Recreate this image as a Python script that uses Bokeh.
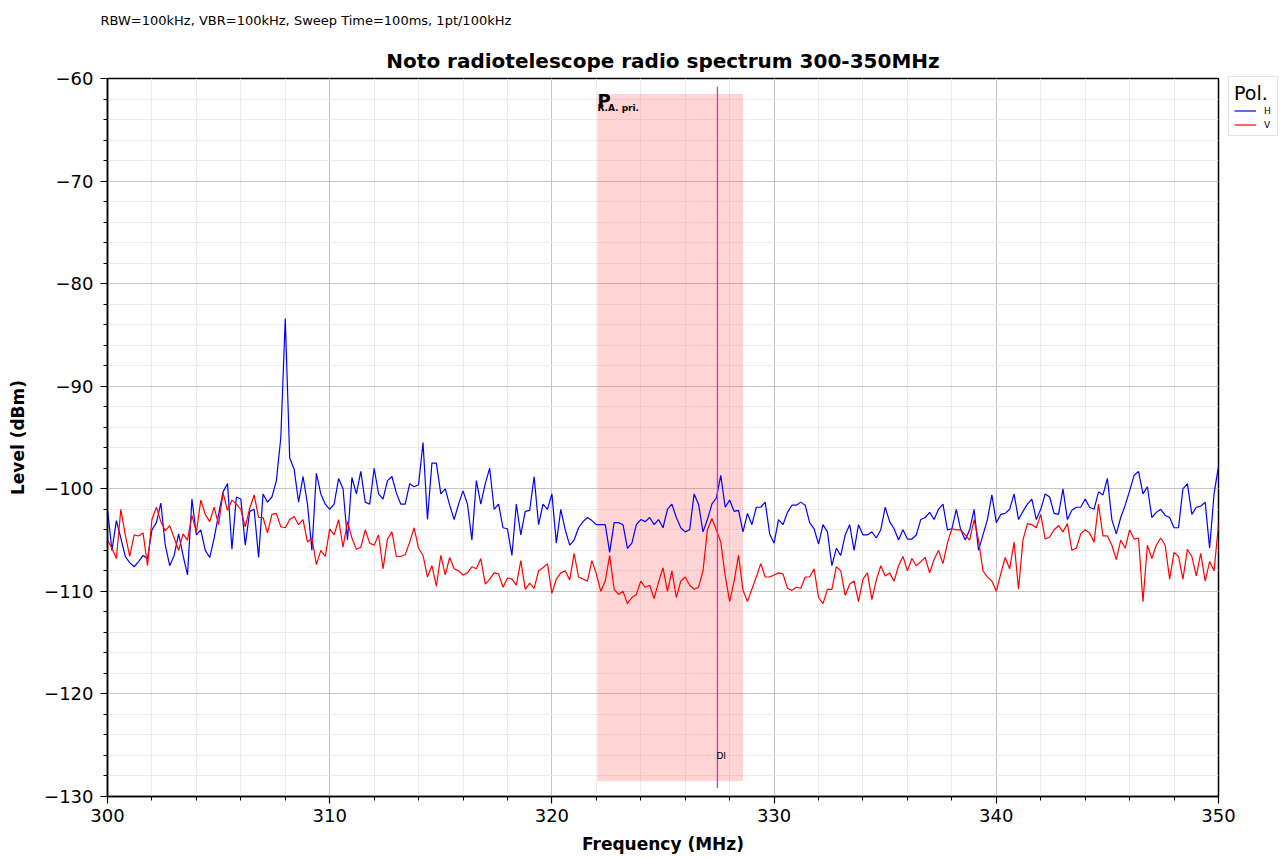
from bokeh.plotting import figure
from bokeh.models import (Range1d, SingleIntervalTicker, Title, Legend, LegendItem,
                          ColumnDataSource)
from bokeh.core.properties import value
from bokeh.embed import file_html
from bokeh.resources import INLINE

# ---------------- data ----------------
freq_start_mhz = 300.0
freq_step_mhz = 0.2

h_level = [
    -102.0, -106.0, -103.1, -104.8, -106.6, -107.2, -107.6, -107.1, -106.5, -106.8,
    -104.0, -103.3, -101.4, -105.5, -107.5, -106.5, -104.4, -106.5, -108.4, -101.0,
    -104.5, -104.0, -106.0, -106.7, -104.8, -102.5, -100.3, -99.5, -105.9, -100.8,
    -101.0, -105.5, -102.2, -102.0, -106.7, -100.5, -101.3, -100.8, -99.2, -95.0,
    -83.4, -97.0, -98.1, -101.3, -98.8, -101.5, -106.0, -98.5, -100.5, -101.5,
    -102.0, -101.5, -99.0, -100.0, -105.0, -98.9, -100.5, -98.3, -101.3, -101.5,
    -98.0, -100.5, -101.0, -99.2, -98.8, -100.4, -101.5, -101.5, -99.5, -99.8,
    -99.6, -95.5, -103.0, -97.5, -97.5, -100.5, -100.0, -101.6, -103.0, -101.5,
    -100.2, -101.5, -105.0, -99.2, -101.5, -99.5, -98.0, -102.0, -101.5, -103.8,
    -103.9, -106.5, -101.5, -104.5, -102.2, -102.1, -98.8, -103.5, -101.5, -102.0,
    -100.5, -105.3, -102.0, -104.0, -105.5, -105.0, -103.8, -103.2, -102.8, -103.1,
    -103.5, -103.5, -103.5, -106.2, -103.3, -103.3, -103.5, -105.8, -105.3, -103.5,
    -103.0, -103.2, -102.8, -103.5, -103.0, -103.8, -102.0, -101.5, -102.8, -103.8,
    -104.2, -104.0, -100.5, -101.5, -104.2, -103.0, -101.5, -100.9, -98.7, -101.8,
    -101.1, -102.2, -102.1, -104.2, -102.4, -103.5, -101.8, -101.8, -101.3, -104.4,
    -105.3, -103.0, -103.5, -102.3, -101.6, -101.6, -101.3, -101.6, -103.3, -103.9,
    -105.4, -103.5, -104.2, -107.5, -105.8, -106.5, -104.5, -103.5, -106.0, -103.5,
    -104.5, -104.5, -104.2, -104.8, -104.0, -101.8, -103.2, -103.9, -105.0, -104.0,
    -104.9, -104.9, -104.5, -103.0, -102.8, -102.3, -103.0, -102.0, -101.5, -104.0,
    -103.9, -102.0, -104.0, -105.0, -104.0, -102.0, -106.0, -104.5, -103.0, -100.6,
    -103.3, -102.5, -102.4, -102.0, -100.5, -103.0, -102.2, -101.5, -101.0, -103.0,
    -102.0, -100.5, -100.8, -102.4, -102.5, -100.0, -103.0, -102.1, -101.8, -101.8,
    -101.0, -101.8, -102.0, -100.3, -100.6, -99.0, -103.0, -104.4, -102.8, -101.6,
    -100.2, -98.7, -98.3, -100.5, -99.8, -102.8, -102.3, -102.0, -102.6, -102.8,
    -103.8, -103.8, -100.0, -99.5, -102.5, -101.8, -101.7, -101.3, -105.8, -100.5,
    -97.8,
]

v_level = [
    -105.0, -105.8, -106.8, -102.0, -104.5, -106.6, -104.5, -104.6, -104.3, -107.5,
    -103.0, -101.8, -103.2, -104.1, -103.6, -104.8, -106.0, -104.4, -105.0, -102.6,
    -104.2, -101.1, -102.5, -103.2, -101.8, -103.5, -100.4, -102.1, -101.1, -101.5,
    -102.0, -103.7, -101.9, -100.6, -102.8, -102.8, -104.3, -102.5, -102.4, -103.7,
    -103.8, -103.0, -102.7, -103.5, -103.0, -105.2, -104.8, -107.4, -106.0, -106.6,
    -103.9, -104.5, -103.0, -105.7, -103.2, -104.8, -105.9, -105.7, -104.0, -105.3,
    -105.5, -104.5, -107.8, -104.9, -104.2, -106.6, -106.6, -106.4, -105.2, -103.8,
    -105.8, -106.5, -108.6, -107.5, -109.5, -106.5, -108.4, -106.7, -107.8, -108.0,
    -108.4, -108.2, -107.6, -107.8, -106.8, -109.3, -108.8, -108.2, -108.3, -109.6,
    -108.7, -108.8, -109.4, -107.0, -109.8, -109.2, -109.7, -108.0, -107.7, -107.3,
    -110.2, -108.8, -108.2, -108.0, -108.9, -106.3, -108.6, -108.8, -109.0, -107.0,
    -108.3, -110.0, -109.0, -106.5, -109.8, -110.3, -110.0, -111.2, -110.6, -110.3,
    -109.0, -109.6, -109.4, -110.7, -109.1, -107.7, -110.0, -108.0, -110.6, -109.0,
    -108.6, -109.4, -109.8, -109.6, -108.0, -104.0, -102.9, -104.0, -105.2, -108.5,
    -111.0, -109.0, -106.5, -109.9, -111.0, -109.8, -108.6, -107.3, -108.6, -108.6,
    -108.4, -108.2, -108.3, -109.7, -109.9, -109.6, -109.7, -108.6, -108.6, -107.8,
    -110.6, -111.2, -109.8, -109.8, -107.6, -108.0, -110.4, -109.3, -109.0, -111.0,
    -108.8, -108.2, -110.8, -108.9, -107.5, -108.5, -108.2, -109.0, -107.5, -106.6,
    -108.0, -106.8, -107.5, -107.1, -106.7, -108.2, -106.9, -106.0, -107.3, -105.3,
    -103.9, -104.0, -104.0, -104.5, -105.0, -103.0, -105.0, -108.0, -108.6, -109.0,
    -110.0, -108.3, -106.7, -107.8, -105.2, -109.8, -105.0, -103.4, -103.5, -103.8,
    -102.5, -104.9, -104.7, -104.0, -103.6, -104.2, -103.4, -106.0, -105.8, -104.4,
    -104.0, -104.3, -105.2, -101.5, -104.6, -104.6, -105.5, -106.9, -105.0, -105.8,
    -104.0, -104.9, -104.8, -111.0, -105.5, -106.8, -105.5, -104.8, -105.5, -108.8,
    -106.2, -106.6, -108.8, -105.9, -106.6, -108.5, -106.3, -109.0, -107.1, -108.0,
    -103.5,
]

freq = [round(freq_start_mhz + freq_step_mhz * i, 1) for i in range(len(h_level))]

series_names = ["H", "V"]

# allocated band (R.A. primary) and marker
band_start = [322.05]
band_end = [328.6]
band_top = [-61.5]
band_bottom = [-128.5]
band_label = ["P"]
band_sub = ["R.A. pri."]

marker_freq = [327.45]
marker_top = [-60.8]
marker_bottom = [-129.2]
marker_label = ["DI"]

x_ticks = [300, 310, 320, 330, 340, 350]
y_ticks = [-60, -70, -80, -90, -100, -110, -120, -130]

title_text = "Noto radiotelescope radio spectrum 300-350MHz"
subtitle_text = "RBW=100kHz, VBR=100kHz, Sweep Time=100ms, 1pt/100kHz"

# ---------------- figure ----------------
FONT = "DejaVu Sans"

p = figure(frame_width=1111, frame_height=718,
           min_border_left=107, min_border_right=64,
           min_border_top=78, min_border_bottom=61,
           output_backend="svg", toolbar_location=None,
           x_range=Range1d(300, 350), y_range=Range1d(-130, -60),
           background_fill_color="white", border_fill_color="white")

# outer line: the measurement settings
p.title.text = subtitle_text
p.title.align = "left"
p.title.offset = -7
p.title.text_font = FONT
p.title.text_font_size = "13px"
p.title.text_font_style = "normal"
p.title.text_color = "black"
p.title.vertical_align = "top"
p.title.standoff = 24

# inner line: the main title (closer to the frame)
main_title = Title(text=title_text, align="center", text_font=FONT,
                   text_font_size="20px", text_font_style="bold",
                   text_color="black", standoff=11)
p.add_layout(main_title, "above")

# band
p.quad(left=band_start, right=band_end, top=band_top, bottom=band_bottom,
       fill_color="#ff6666", fill_alpha=0.28, line_color=None)

# lines
src = ColumnDataSource(dict(f=freq, h=h_level, v=v_level))
rh = p.line("f", "h", source=src, line_color="#0000ff", line_width=1.2)
rv = p.line("f", "v", source=src, line_color="#ff0000", line_width=1.2)

# marker
p.segment(x0=marker_freq, y0=marker_top, x1=marker_freq, y1=marker_bottom,
          line_color="#bf3fbf", line_width=1.3)

p.text(x=band_start, y=band_top, text=band_label, text_font=value(FONT),
       text_font_style="bold", text_font_size="18px", text_align="left",
       text_baseline="alphabetic", y_offset=7, text_color="black")
p.text(x=band_start, y=band_top, text=band_sub, text_font=value(FONT),
       text_font_style="bold", text_font_size="9px", text_align="left",
       text_baseline="alphabetic", y_offset=14, text_color="black")
p.text(x=marker_freq, y=band_bottom, text=marker_label, text_font=value(FONT),
       text_font_size="9px", text_align="left", text_baseline="middle",
       y_offset=-25, x_offset=-1, text_color="black")

# axes
for ax in (p.xaxis[0], p.yaxis[0]):
    ax.axis_line_color = "black"
    ax.axis_line_width = 1.5
    ax.major_tick_line_color = "black"
    ax.minor_tick_line_color = "black"
    ax.major_tick_line_width = 1.2
    ax.minor_tick_line_width = 1
    ax.major_tick_in = 0
    ax.major_tick_out = 7
    ax.minor_tick_in = 0
    ax.minor_tick_out = 4
    ax.major_label_text_font = FONT
    ax.major_label_text_font_size = "18px"
    ax.major_label_text_color = "black"
    ax.axis_label_text_font = FONT
    ax.axis_label_text_font_size = "17px"
    ax.axis_label_text_font_style = "bold"
    ax.axis_label_text_color = "black"

p.xaxis.ticker = SingleIntervalTicker(interval=10, num_minor_ticks=5)
p.yaxis.ticker = SingleIntervalTicker(interval=10, num_minor_ticks=5)
p.xaxis.axis_label = "Frequency (MHz)"
p.yaxis.axis_label = "Level (dBm)"
p.xaxis.major_label_standoff = 5
p.xaxis.axis_label_standoff = 9
p.yaxis.major_label_standoff = 7
p.yaxis.axis_label_standoff = 13
p.yaxis.major_label_overrides = {t: "\u2212" + str(abs(t)) for t in y_ticks}
p.xaxis.major_label_overrides = {t: str(t) for t in x_ticks}

# grid
for g in (p.xgrid[0], p.ygrid[0]):
    g.grid_line_color = "#c4c4c4"
    g.grid_line_width = 1
    g.minor_grid_line_color = "#ececec"
    g.minor_grid_line_width = 1

p.outline_line_color = "black"
p.outline_line_width = 1.5

# legend (outside, to the right of the frame)
legend = Legend(items=[LegendItem(label=series_names[0], renderers=[rh]),
                       LegendItem(label=series_names[1], renderers=[rv])],
                location=(10, 660), title="Pol.",
                title_text_font=FONT, title_text_font_size="19px",
                title_text_font_style="normal", title_text_color="black",
                title_standoff=1,
                label_text_font=FONT, label_text_font_size="9px",
                label_text_color="black", label_width=8,
                glyph_width=22, glyph_height=11, label_height=11,
                label_standoff=8, spacing=3, padding=5, margin=0,
                border_line_color="#cccccc", border_line_width=1,
                background_fill_color="white", background_fill_alpha=1)
p.add_layout(legend, "right")

open("out.html", "w").write(file_html(p, INLINE))
